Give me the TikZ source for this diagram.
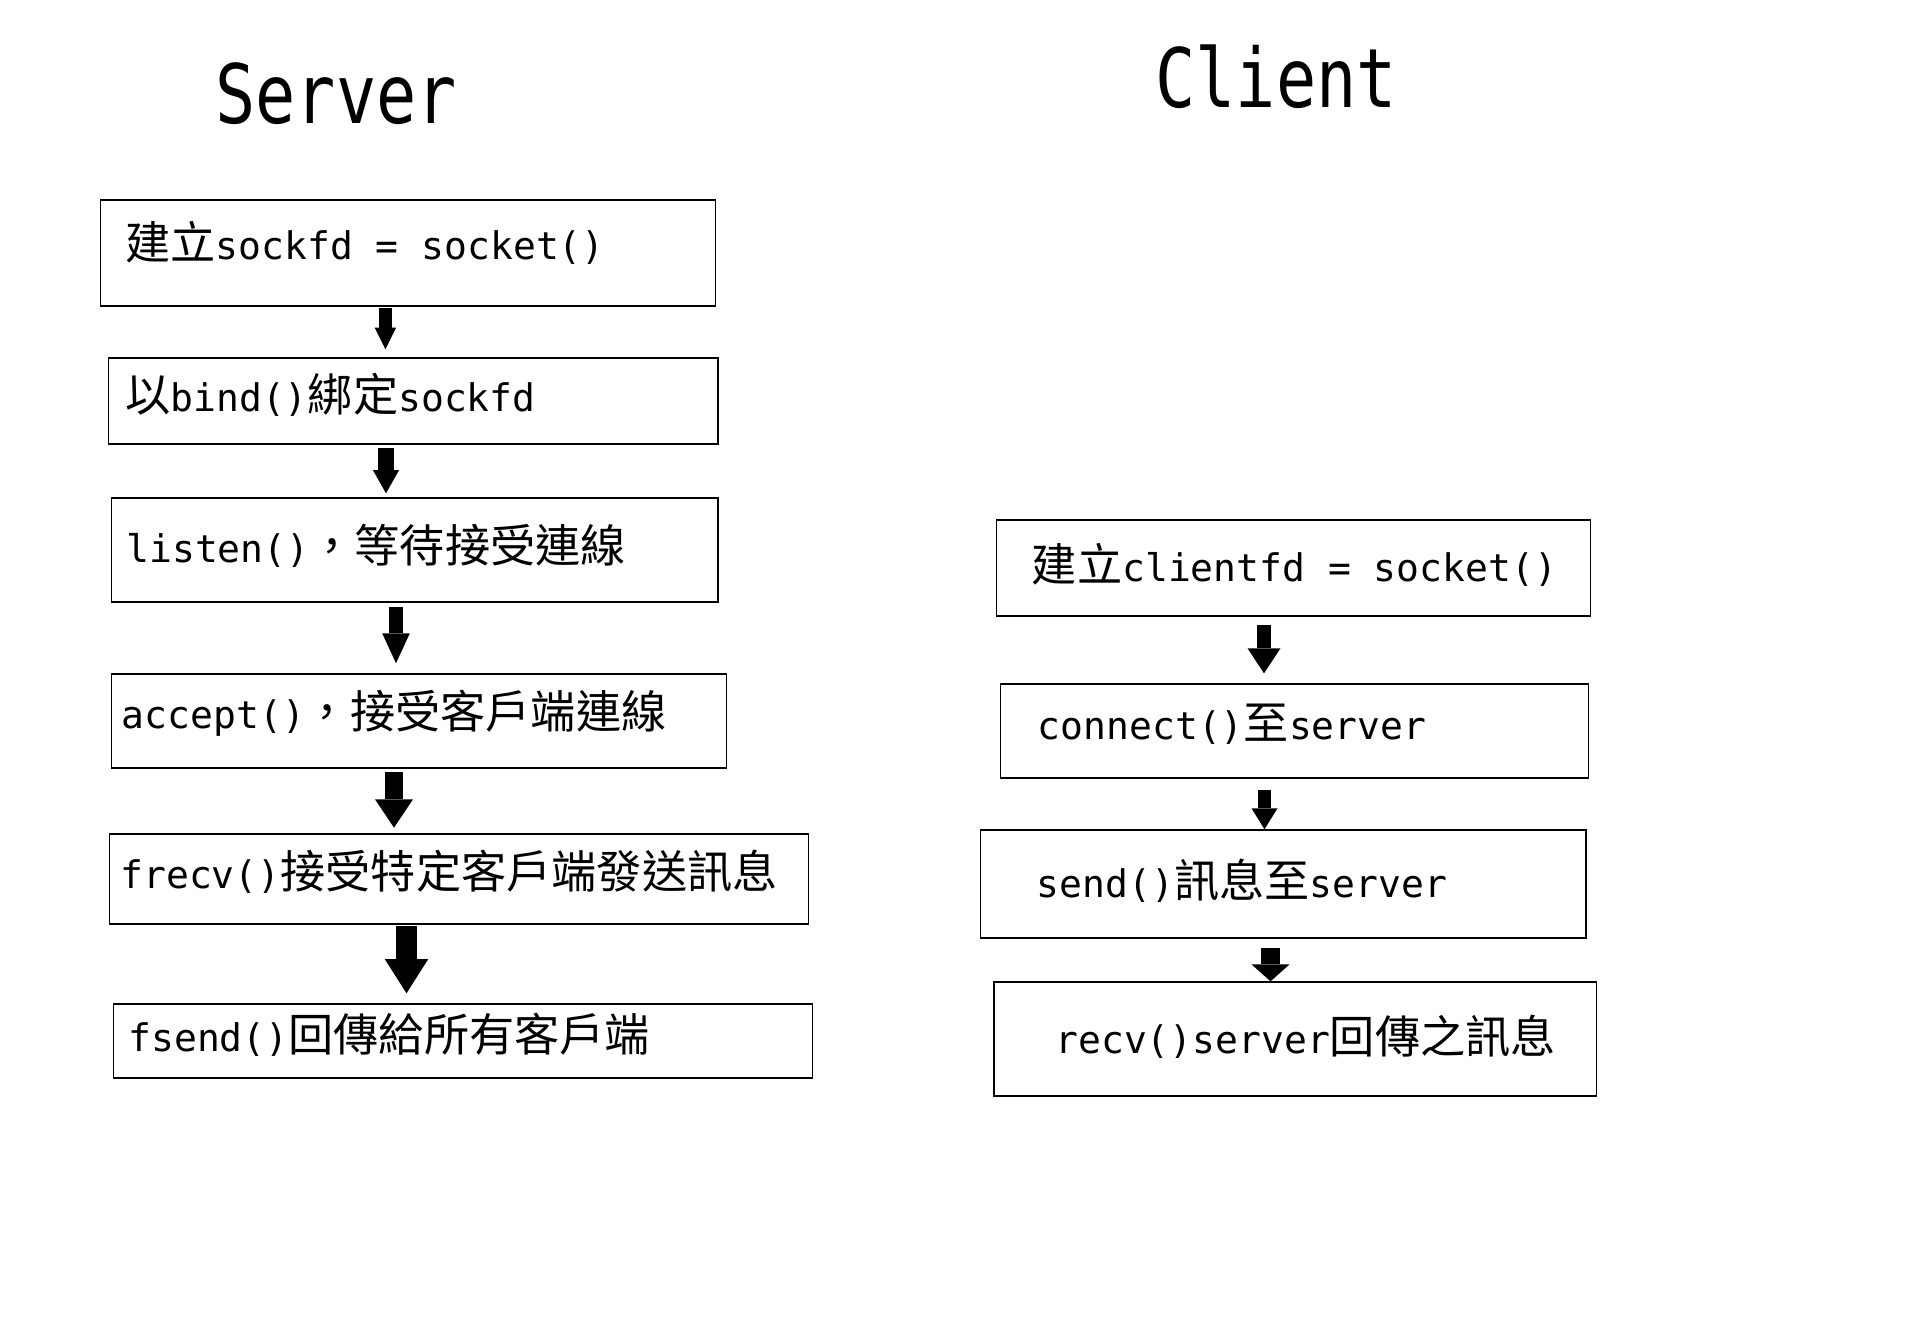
\documentclass[tikz,border=0pt]{standalone}
\usepackage{fontspec}
\usetikzlibrary{arrows.meta}
\newfontfamily\latf{DejaVu Sans Mono}
\newfontfamily\titf{DejaVu Sans Mono}[FakeStretch=0.815]
\newfontfamily\cjkf{Noto Sans CJK TC}
\newcommand\zhtxt[1]{{\cjkf\fontsize{22.6}{22.6}\selectfont #1}}
\tikzset{
  box/.style={draw=black, line width=0.7pt, anchor=north west, inner sep=0pt},
  lbl/.style={anchor=base west, inner sep=0pt, font=\latf\fontsize{19}{19}\selectfont},
  ttl/.style={anchor=base west, inner sep=0pt, font=\titf\fontsize{41}{41}\selectfont},
  blk/.style n args={3}{draw=black, line width=#1, -{Triangle[width=#2,length=#3,line width=0pt]}}
}
\begin{document}
\begin{tikzpicture}[x=0.5pt,y=-0.5pt]
\path[use as bounding box, fill=white] (0,0) rectangle (1906,1332);

% titles
\node[ttl] (tserver) at (215,123.3) {Server};
\node[ttl] (tclient) at (1155,107.3) {Client};

% server boxes
\node[box, minimum width=307.7pt, minimum height=53pt] (s1) at (99.6,199.3) {};
\node[box, minimum width=304.9pt, minimum height=43pt] (s2) at (107.6,357.3) {};
\node[box, minimum width=303.2pt, minimum height=52pt] (s3) at (111,497.3) {};
\node[box, minimum width=307.3pt, minimum height=47pt] (s4) at (111,673.3) {};
\node[box, minimum width=349.5pt, minimum height=45pt] (s5) at (109,833.3) {};
\node[box, minimum width=349.5pt, minimum height=37pt] (s6) at (113,1003.3) {};

% client boxes
\node[box, minimum width=297.05pt, minimum height=48pt] (c1) at (995.6,519.3) {};
\node[box, minimum width=294pt, minimum height=47pt] (c2) at (999.5,683.3) {};
\node[box, minimum width=302.9pt, minimum height=54pt] (c3) at (979.5,829.3) {};
\node[box, minimum width=301.15pt, minimum height=57pt] (c4) at (993.4,981.3) {};

% labels
\node[lbl] (l1) at (125,259.3) {\zhtxt{建立}sockfd = socket()};
\node[lbl] (l2) at (125,411.7) {\zhtxt{以}bind()\zhtxt{綁定}sockfd};
\node[lbl] (l3) at (126,562.7) {listen()\zhtxt{，等待接受連線}};
\node[lbl] (l4) at (121.5,728.3) {accept()\zhtxt{，接受客戶端連線}};
\node[lbl] (l5) at (120,888.3) {frecv()\zhtxt{接受特定客戶端發送訊息}};
\node[lbl] (l6) at (128,1051.7) {fsend()\zhtxt{回傳給所有客戶端}};
\node[lbl] (m1) at (1031.5,581.7) {\zhtxt{建立}clientfd = socket()};
\node[lbl] (m2) at (1037.5,739.3) {connect()\zhtxt{至}server};
\node[lbl] (m3) at (1036.5,897.3) {send()\zhtxt{訊息至}server};
\node[lbl] (m4) at (1055,1053.3) {recv()server\zhtxt{回傳之訊息}};

% arrow x positions
\coordinate (xa1) at (385.4,0);
\coordinate (xa2) at (386,0);
\coordinate (xa3) at (396,0);
\coordinate (xa4) at (394,0);
\coordinate (xa5) at (406.5,0);
\coordinate (xc1) at (1264,0);
\coordinate (xc2) at (1264.5,0);
\coordinate (xc3) at (1270.5,0);

% server arrows
\draw[blk={6.75pt}{10.7pt}{10.8pt}, shorten <=0.7pt, shorten >=4pt] (s1.south -| xa1) -- (s2.north -| xa1);
\draw[blk={7.75pt}{13.15pt}{11.65pt}, shorten <=1.7pt, shorten >=2pt] (s2.south -| xa2) -- (s3.north -| xa2);
\draw[blk={7pt}{13.8pt}{15pt}, shorten <=2pt, shorten >=5pt] (s3.south -| xa3) -- (s4.north -| xa3);
\draw[blk={9pt}{19pt}{14.2pt}, shorten <=1.85pt, shorten >=2.8pt] (s4.south -| xa4) -- (s5.north -| xa4);
\draw[blk={10.7pt}{21.8pt}{17.15pt}, shorten <=0.7pt, shorten >=5pt] (s5.south -| xa5) -- (s6.north -| xa5);

% client arrows
\draw[blk={7pt}{16.5pt}{12.5pt}, shorten <=4pt, shorten >=5pt] (c1.south -| xc1) -- (c2.north -| xc1);
\draw[blk={6.7pt}{13pt}{10.5pt}, shorten <=5.5pt] (c2.south -| xc2) -- (c3.north -| xc2);
\draw[blk={9.75pt}{19.1pt}{8.5pt}, shorten <=4.7pt] (c3.south -| xc3) -- (c4.north -| xc3);
\end{tikzpicture}
\end{document}
